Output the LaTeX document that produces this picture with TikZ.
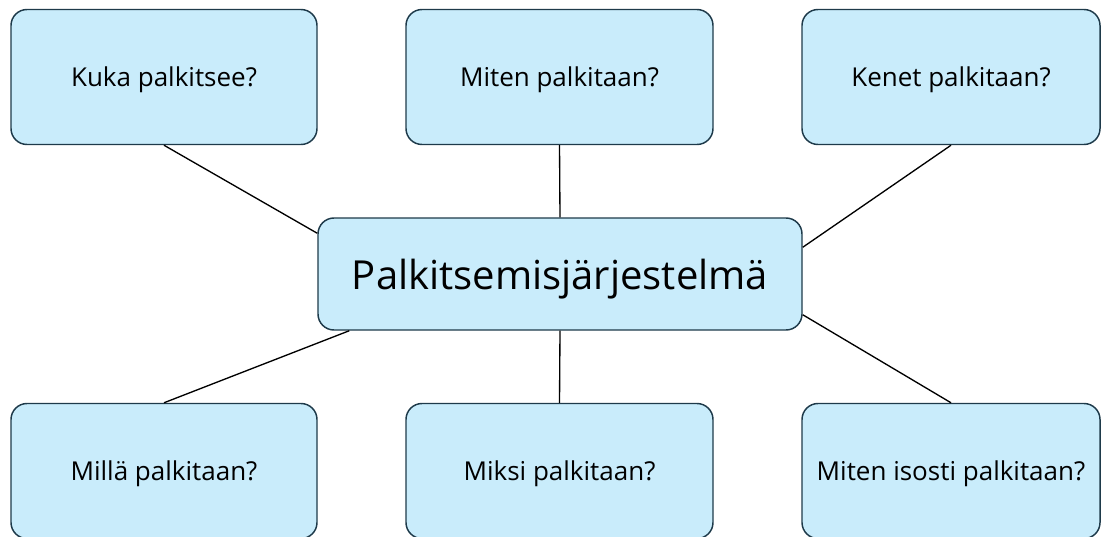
\documentclass[tikz,border=0pt]{standalone}
\usepackage{fontspec}
\setmainfont{Open Sans}
\usetikzlibrary{calc}
\definecolor{boxfill}{HTML}{C9ECFB}
\definecolor{boxline}{HTML}{1E3A4A}
\tikzset{
  qbox/.style={draw=boxline, line width=1.1pt, fill=boxfill, rounded corners=12pt, text depth=0pt,
    minimum width=#1*0.75pt, minimum height=135*0.75pt, inner sep=0pt, font=\fontsize{19.5}{22}\selectfont},
  qbox/.default=306,
  mainbox/.style={draw=boxline, line width=1.1pt, fill=boxfill, rounded corners=12pt, text depth=0pt,
    minimum width=484*0.75pt, minimum height=112*0.75pt, inner sep=0pt, font=\fontsize{30}{34}\selectfont},
  link/.style={draw=black, line width=1pt}
}
\begin{document}
\begin{tikzpicture}[x=0.75pt, y=-0.75pt]
\useasboundingbox (0,0) rectangle (1102,536);
\node[mainbox] (c) at (560,274) {Palkitsemisjärjestelmä};
\node[qbox] (tl) at (164,77) {Kuka palkitsee?};
\node[qbox=307] (tm) at (559.5,77) {Miten palkitaan?};
\node[qbox=298] (tr) at (951,77) {Kenet palkitaan?};
\node[qbox] (bl) at (164,471) {Millä palkitaan?};
\node[qbox=307] (bm) at (559.5,471) {Miksi palkitaan?};
\node[qbox=298] (br) at (951,471) {Miten isosti palkitaan?};
\draw[link] (tl.south) -- ($(c.north west)+(0,16)$);
\draw[link] (tm.south) -- (c.north);
\draw[link] (tr.south) -- ($(c.north east)+(0,30)$);
\draw[link] (bl.north) -- ($(c.south west)+(32,0)$);
\draw[link] (bm.north) -- (c.south);
\draw[link] (br.north) -- ($(c.south east)+(0,-16)$);
\end{tikzpicture}
\end{document}
